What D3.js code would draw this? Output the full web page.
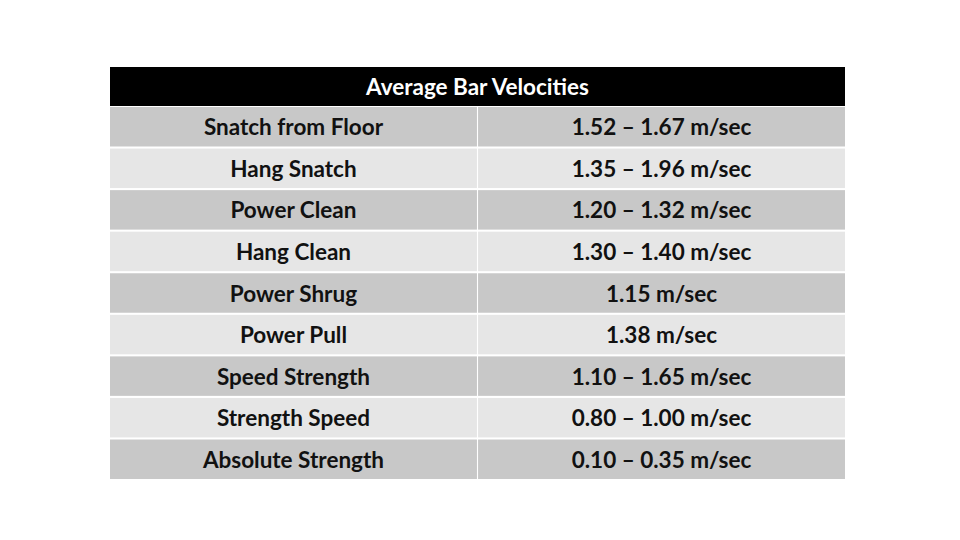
<!DOCTYPE html>
<html><head><meta charset="utf-8">
<script src="https://cdn.jsdelivr.net/npm/d3@7"></script>
<style>body{margin:0;background:#fff}</style></head>
<body><svg id="c" width="960" height="540"></svg>
<script>
const title = "Average Bar Velocities";
const exercises = ["Snatch from Floor","Hang Snatch","Power Clean","Hang Clean","Power Shrug","Power Pull","Speed Strength","Strength Speed","Absolute Strength"];
const velocities = ["1.52 – 1.67 m/sec","1.35 – 1.96 m/sec","1.20 – 1.32 m/sec","1.30 – 1.40 m/sec","1.15 m/sec","1.38 m/sec","1.10 – 1.65 m/sec","0.80 – 1.00 m/sec","0.10 – 0.35 m/sec"];
const columns = ["exercise","velocity"];

const svg = d3.select("#c");
const x0 = 110, x1 = 845, yTop = 107, yBot = 479;
const x = d3.scaleBand().domain(columns).range([x0, x1]).paddingInner(0.003);
const y = d3.scaleBand().domain(d3.range(exercises.length)).range([yTop, yBot]).paddingInner(0.05);

svg.append("rect").attr("x", x0).attr("y", 67).attr("width", x1 - x0).attr("height", 39).attr("fill", "#000");
svg.append("text").attr("x", (x0 + x1) / 2).attr("y", 86.5).attr("text-anchor","middle").attr("dominant-baseline","central")
  .attr("fill","#fff").attr("font-family","Lato, sans-serif").attr("font-weight",700).attr("font-size",22.5).text(title);

const rows = exercises.map((e,i)=>({i, exercise:e, velocity:velocities[i]}));
const g = svg.append("g");
rows.forEach(r=>{
  columns.forEach(c=>{
    g.append("rect").attr("x", x(c)).attr("y", y(r.i)).attr("width", x.bandwidth()).attr("height", y.bandwidth())
      .attr("fill", r.i % 2 === 0 ? "#c8c8c8" : "#e6e6e6");
    g.append("text").attr("x", x(c) + x.bandwidth()/2).attr("y", y(r.i) + y.bandwidth()/2)
      .attr("text-anchor","middle").attr("dominant-baseline","central")
      .attr("fill","#111").attr("font-family","Lato, sans-serif").attr("font-weight",700).attr("font-size",22.5)
      .text(r[c]);
  });
});
</script></body></html>
